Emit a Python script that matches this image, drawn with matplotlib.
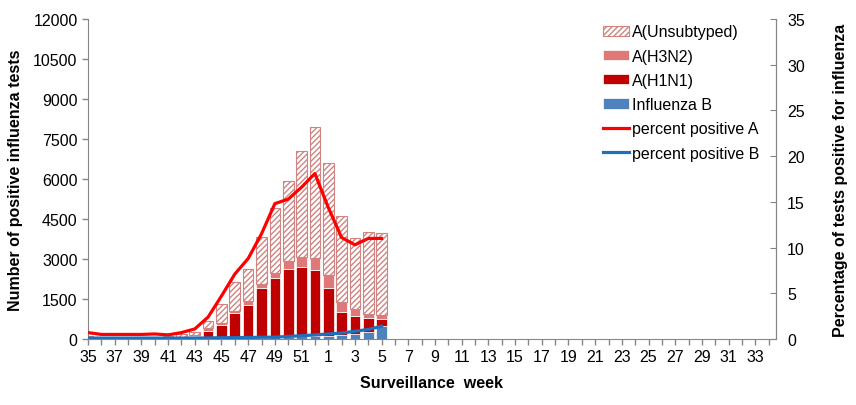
import numpy as np
import matplotlib.pyplot as plt

plt.rcParams['font.family'] = ['Liberation Sans', 'DejaVu Sans']
plt.rcParams['hatch.linewidth'] = 1.0

# Surveillance weeks 35..52, then 1..34
weeks = list(range(35, 53)) + list(range(1, 35))

# Counts for weeks 35..5 (remaining weeks have no data yet)
flu_b = [10, 8, 8, 8, 10, 10, 12, 15, 15, 20, 25, 30, 40, 50, 60, 80, 100, 120, 130, 150, 180, 250, 500]
h1n1 = [10, 7, 7, 7, 8, 8, 10, 20, 110, 293, 500, 945, 1235, 1850, 2228, 2545, 2613, 2480, 1795, 875, 695, 538, 263]
h3n2 = [15, 10, 10, 10, 12, 12, 13, 25, 25, 87, 75, 75, 163, 175, 187, 288, 350, 425, 463, 350, 238, 137, 125]
unsub = [85, 55, 45, 45, 50, 60, 65, 130, 125, 263, 700, 1075, 1175, 1738, 2425, 3025, 4000, 4913, 4200, 3250, 2662, 3075, 3075]
pct_a = [0.7, 0.5, 0.5, 0.5, 0.5, 0.55, 0.45, 0.7, 1.1, 2.4, 4.7, 7.1, 8.8, 11.5, 14.8, 15.3, 16.6, 18.1, 14.4, 11.1, 10.3, 11.0, 11.0]
pct_b = [0.1, 0.1, 0.1, 0.1, 0.1, 0.1, 0.1, 0.1, 0.1, 0.12, 0.14, 0.15, 0.17, 0.19, 0.2, 0.28, 0.36, 0.45, 0.55, 0.65, 0.84, 1.05, 1.4]

n = len(flu_b)
x = np.arange(n)
b = np.array(flu_b)
h1 = np.array(h1n1)
h3 = np.array(h3n2)
un = np.array(unsub)

fs = 11.5
grey = '#868686'
fig = plt.figure(figsize=(8.56, 4.06), dpi=100)
ax = fig.add_axes([88 / 856, 1 - 340 / 406, 688 / 856, 320 / 406])

w = 0.8
ax.bar(x, b, w, color='#4F81BD', edgecolor='white', linewidth=0.5, label='Influenza B')
ax.bar(x, h1, w, bottom=b, color='#C00000', edgecolor='white', linewidth=0.5, label='A(H1N1)')
ax.bar(x, h3, w, bottom=b + h1, color='#E07878', edgecolor='white', linewidth=0.5, label='A(H3N2)')
ax.bar(x, un, w, bottom=b + h1 + h3, color='white', edgecolor='#CF8482', hatch='//////',
       linewidth=0.8, label='A(Unsubtyped)')

ax.set_xlim(0, 51.55)
ax.set_ylim(0, 12000)
ax.set_yticks(np.arange(0, 12001, 1500))
ax.set_xticks(np.arange(len(weeks)))
ax.set_xticklabels([str(wk) if i % 2 == 0 else '' for i, wk in enumerate(weeks)])
ax.tick_params(axis='both', colors=grey, labelcolor='black', labelsize=fs, length=4, width=1)
ax.tick_params(axis='x', pad=3)
ax.spines['top'].set_visible(False)
for s in ['left', 'bottom', 'right']:
    ax.spines[s].set_color(grey)
ax.set_ylabel('Number of positive influenza tests', fontsize=fs, fontweight='bold', labelpad=7)
ax.set_xlabel('Surveillance  week', fontsize=fs, fontweight='bold', labelpad=8)

ax2 = ax.twinx()
ax2.plot(x, pct_a, color='#FF0000', linewidth=2.3, label='percent positive A')
ax2.plot(x, pct_b, color='#1F6FB9', linewidth=2.3, label='percent positive B')
ax2.set_ylim(0, 35)
ax2.set_yticks(np.arange(0, 36, 5))
ax2.tick_params(axis='y', direction='in', colors=grey, labelcolor='black', labelsize=fs, length=4, pad=8)
for s in ['top', 'left', 'bottom']:
    ax2.spines[s].set_visible(False)
ax2.spines['right'].set_color(grey)
ax2.set_ylabel('Percentage of tests positive for influenza', fontsize=fs, fontweight='bold', labelpad=20)

h_a, l_a = ax.get_legend_handles_labels()
h_b, l_b = ax2.get_legend_handles_labels()
ax2.legend(h_a[::-1] + h_b, l_a[::-1] + l_b, loc='upper left', bbox_to_anchor=(597 / 856, 1 - 19 / 406),
           bbox_transform=fig.transFigure, frameon=False, fontsize=fs, handlelength=1.6,
           handleheight=0.6, handletextpad=0.2, labelspacing=0.58, borderaxespad=0)

fig.savefig('out.png', dpi=100)
